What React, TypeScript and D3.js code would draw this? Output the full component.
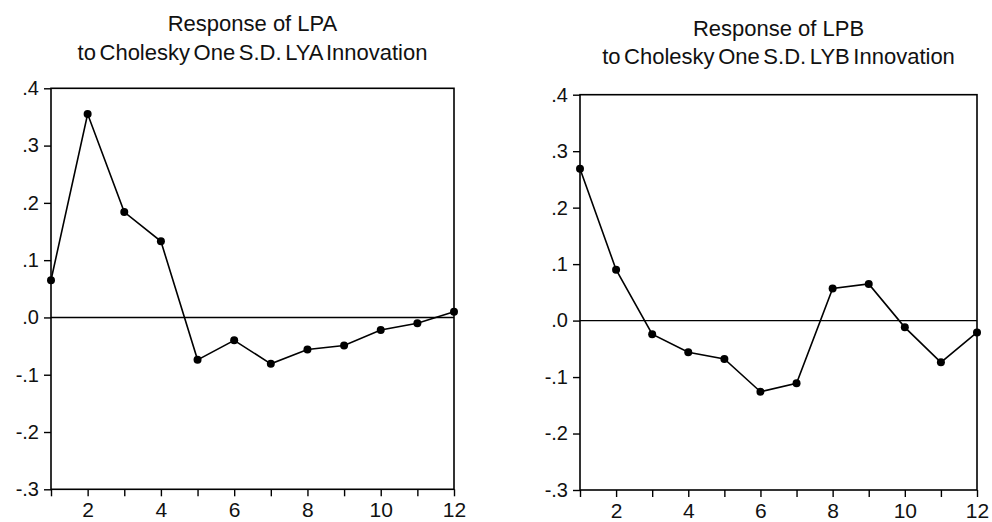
import { useEffect, useRef } from 'react'
import * as d3 from 'd3'

const periods = [1, 2, 3, 4, 5, 6, 7, 8, 9, 10, 11, 12]
const lpaResponse = [0.065, 0.355, 0.184, 0.133, -0.074, -0.04, -0.081, -0.056, -0.049, -0.022, -0.01, 0.01]
const lpbResponse = [0.269, 0.09, -0.024, -0.056, -0.068, -0.126, -0.111, 0.057, 0.065, -0.012, -0.074, -0.021]
const yTicks = [-0.3, -0.2, -0.1, 0, 0.1, 0.2, 0.3, 0.4]
const xLabelTicks = [2, 4, 6, 8, 10, 12]
const panels = [
  { title: ['Response of LPA', 'to Cholesky One S.D. LYA Innovation'], values: lpaResponse },
  { title: ['Response of LPB', 'to Cholesky One S.D. LYB Innovation'], values: lpbResponse },
]

const boxes = [
  { left: 51, right: 454, top: 88.3, bottom: 489.3, titleY: [31, 60] },
  { left: 580, right: 977, top: 94.7, bottom: 490, titleY: [36, 64] },
]

const fmt = (v: number) => v.toFixed(1).replace(/^(-?)0\./, '$1.')

export default function App() {
  const ref = useRef<SVGSVGElement>(null)

  useEffect(() => {
    const svg = d3.select(ref.current)
    svg.selectAll('*').remove()
    const font = 'Liberation Sans, Arial, sans-serif'

    panels.forEach((p, i) => {
      const b = boxes[i]
      const x = d3.scaleLinear().domain([1, 12]).range([b.left, b.right])
      const y = d3.scaleLinear().domain([-0.3, 0.4]).range([b.bottom, b.top])
      const g = svg.append('g')

      g.selectAll('text.title')
        .data(p.title)
        .join('text')
        .attr('class', 'title')
        .attr('x', (b.left + b.right) / 2)
        .attr('y', (_, k) => b.titleY[k])
        .attr('text-anchor', 'middle')
        .attr('font-family', font)
        .attr('font-size', 22)
        .attr('word-spacing', (_, k) => (k === 1 ? -2.5 : 0))
        .attr('fill', '#111')
        .text((d) => d)

      g.append('rect')
        .attr('x', b.left)
        .attr('y', b.top)
        .attr('width', b.right - b.left)
        .attr('height', b.bottom - b.top)
        .attr('fill', 'none')
        .attr('stroke', '#000')
        .attr('stroke-width', 1.6)

      // zero line
      g.append('line')
        .attr('x1', b.left)
        .attr('x2', b.right)
        .attr('y1', y(0))
        .attr('y2', y(0))
        .attr('stroke', '#000')
        .attr('stroke-width', 1.4)

      const yAxis = d3
        .axisLeft(y)
        .tickValues(yTicks)
        .tickSize(7)
        .tickPadding(5)
        .tickFormat((d) => fmt(d as number))
      const ya = g.append('g').attr('transform', `translate(${b.left},0)`).call(yAxis)
      ya.select('.domain').remove()
      ya.selectAll('line').attr('stroke-width', 1.4)
      ya.selectAll('text').attr('font-family', font).attr('font-size', 20).attr('fill', '#111')

      const xAxis = d3
        .axisBottom(x)
        .tickValues(periods)
        .tickSize(7)
        .tickPadding(6)
        .tickFormat((d) => (xLabelTicks.includes(d as number) ? String(d) : ''))
      const xa = g.append('g').attr('transform', `translate(0,${b.bottom})`).call(xAxis)
      xa.select('.domain').remove()
      xa.selectAll('line').attr('stroke-width', 1.4)
      xa.selectAll('text').attr('font-family', font).attr('font-size', 21).attr('fill', '#111')

      const line = d3
        .line<number>()
        .x((_, k) => x(periods[k]))
        .y((d) => y(d))
      g.append('path')
        .attr('d', line(p.values))
        .attr('fill', 'none')
        .attr('stroke', '#000')
        .attr('stroke-width', 1.6)

      g.selectAll('circle')
        .data(p.values)
        .join('circle')
        .attr('cx', (_, k) => x(periods[k]))
        .attr('cy', (d) => y(d))
        .attr('r', 4)
        .attr('fill', '#000')
    })
  }, [])

  return (
    <div style={{ position: 'absolute', left: 0, top: 0 }}>
      <svg ref={ref} width={992} height={522} style={{ display: 'block', background: '#fff' }} />
    </div>
  )
}
